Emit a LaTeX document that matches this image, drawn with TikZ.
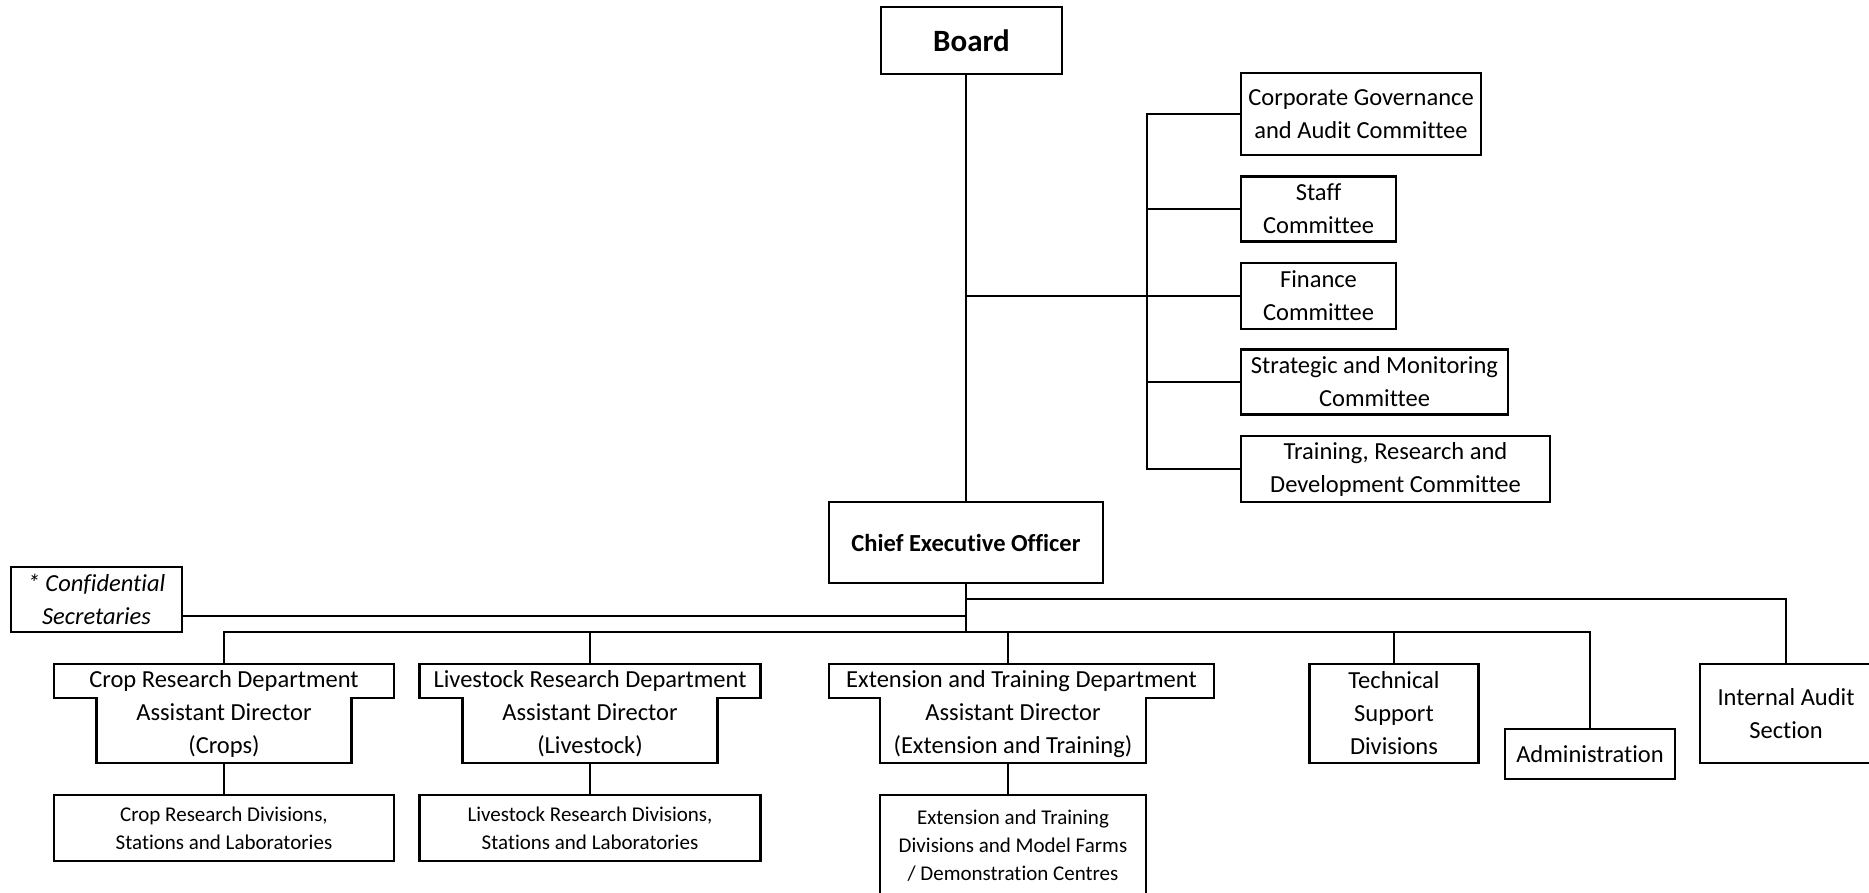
\documentclass[tikz,border=0pt]{standalone}
\usepackage{fontspec}
\setmainfont{Carlito}[Ligatures=NoCommon]
\begin{document}
\begin{tikzpicture}[x=1pt,y=-1pt,line width=2.3pt,
  txt/.style={rectangle,inner sep=0pt,outer sep=0pt,align=center,font=\fontsize{24.5}{33}\selectfont},
  box/.style={txt,draw},
  smallbox/.style={box,font=\fontsize{21}{28}\selectfont}]
\useasboundingbox (0,0) rectangle (1869,892);
\clip (0,0) rectangle (1869,892);
% top
\node[box,font=\fontsize{31}{36}\selectfont\bfseries,minimum width=181,minimum height=67] (board) at (971.5,40.5) {Board};
\node[box,minimum width=240,minimum height=82] (cg) at (1361,114) {Corporate Governance\\and Audit Committee};
\node[box,minimum width=155,minimum height=65] (staff) at (1318.5,209) {Staff\\Committee};
\node[box,minimum width=155,minimum height=66] (fin) at (1318.5,296) {Finance\\Committee};
\node[box,minimum width=267,minimum height=65] (strat) at (1374.5,382) {Strategic and Monitoring\\Committee};
\node[box,minimum width=309,minimum height=66] (train) at (1395.5,469) {Training, Research and\\Development Committee};
\node[box,font=\fontsize{24.5}{33}\selectfont\bfseries,minimum width=274,minimum height=81] (ceo) at (966,542.5) {Chief Executive Officer};
\node[box,font=\fontsize{24.5}{33}\selectfont\itshape,minimum width=171,minimum height=65] (conf) at (96.5,599.5) {* Confidential\\Secretaries};
% departments
\node[txt,minimum width=340,minimum height=34] (cropH) at (224,681) {Crop Research Department};
\node[txt,minimum width=255,minimum height=65] (crop) at (224,730.5) {Assistant Director\\(Crops)};
\node[txt,minimum width=341,minimum height=34] (lvH) at (590,681) {Livestock Research Department};
\node[txt,minimum width=255,minimum height=65] (lv) at (590,730.5) {Assistant Director\\(Livestock)};
\node[txt,minimum width=385,minimum height=34] (extH) at (1021.5,681) {Extension and Training Department};
\node[txt,minimum width=266,minimum height=65] (ext) at (1013,730.5) {Assistant Director\\(Extension and Training)};
\foreach \h/\l in {cropH/crop,lvH/lv,extH/ext}{
  \draw (\h.north west) -- (\h.north east) -- (\h.south east) -- (\l.north east) -- (\l.south east) -- (\l.south west) -- (\l.north west) -- (\h.south west) -- cycle;
}
\node[smallbox,minimum width=340,minimum height=66] (cropB) at (224,828) {Crop Research Divisions,\\Stations and Laboratories};
\node[smallbox,minimum width=341,minimum height=66] (lvB) at (590,828) {Livestock Research Divisions,\\Stations and Laboratories};
\node[smallbox,minimum width=266,minimum height=102] (extB) at (1013,846) {Extension and Training\\Divisions and Model Farms\\/ Demonstration Centres};
\node[box,minimum width=169,minimum height=99] (tech) at (1394,713.5) {Technical\\Support\\Divisions};
\node[box,minimum width=170,minimum height=50] (admin) at (1590,754) {Administration};
\node[box,minimum width=172,minimum height=99] (ia) at (1786,713.5) {Internal Audit\\Section};
% connectors: board and committees
\coordinate (sp) at (1147,0);
\draw (board.south -| ceo.north) -- (ceo.north);
\draw (cg.west) -- (cg.west -| sp) -- (train.west -| sp) -- (train.west);
\draw (staff.west) -- (staff.west -| sp);
\draw (strat.west) -- (strat.west -| sp);
\draw (fin.west -| ceo.north) -- (fin.west);
% connectors below CEO
\coordinate (jIA) at (966,599);
\coordinate (jCS) at (966,616);
\coordinate (jB) at (966,632);
\coordinate (extc) at (1008,632);
\draw (ceo.south) -- (jB);
\draw (jIA) -| (ia.north);
\draw (jCS) -- (conf.east |- jCS);
\draw (cropH.north) -- (cropH.north |- jB) -- (admin.north |- jB) -- (admin.north);
\draw (lvH.north) -- (lvH.north |- jB);
\draw (extc) -- (extc |- extH.north);
\draw (tech.north) -- (tech.north |- jB);
\draw (cropB.north) -- (cropB.north |- crop.south);
\draw (lvB.north) -- (lvB.north |- lv.south);
\draw (extc |- ext.south) -- (extc |- extB.north);
\end{tikzpicture}
\end{document}
